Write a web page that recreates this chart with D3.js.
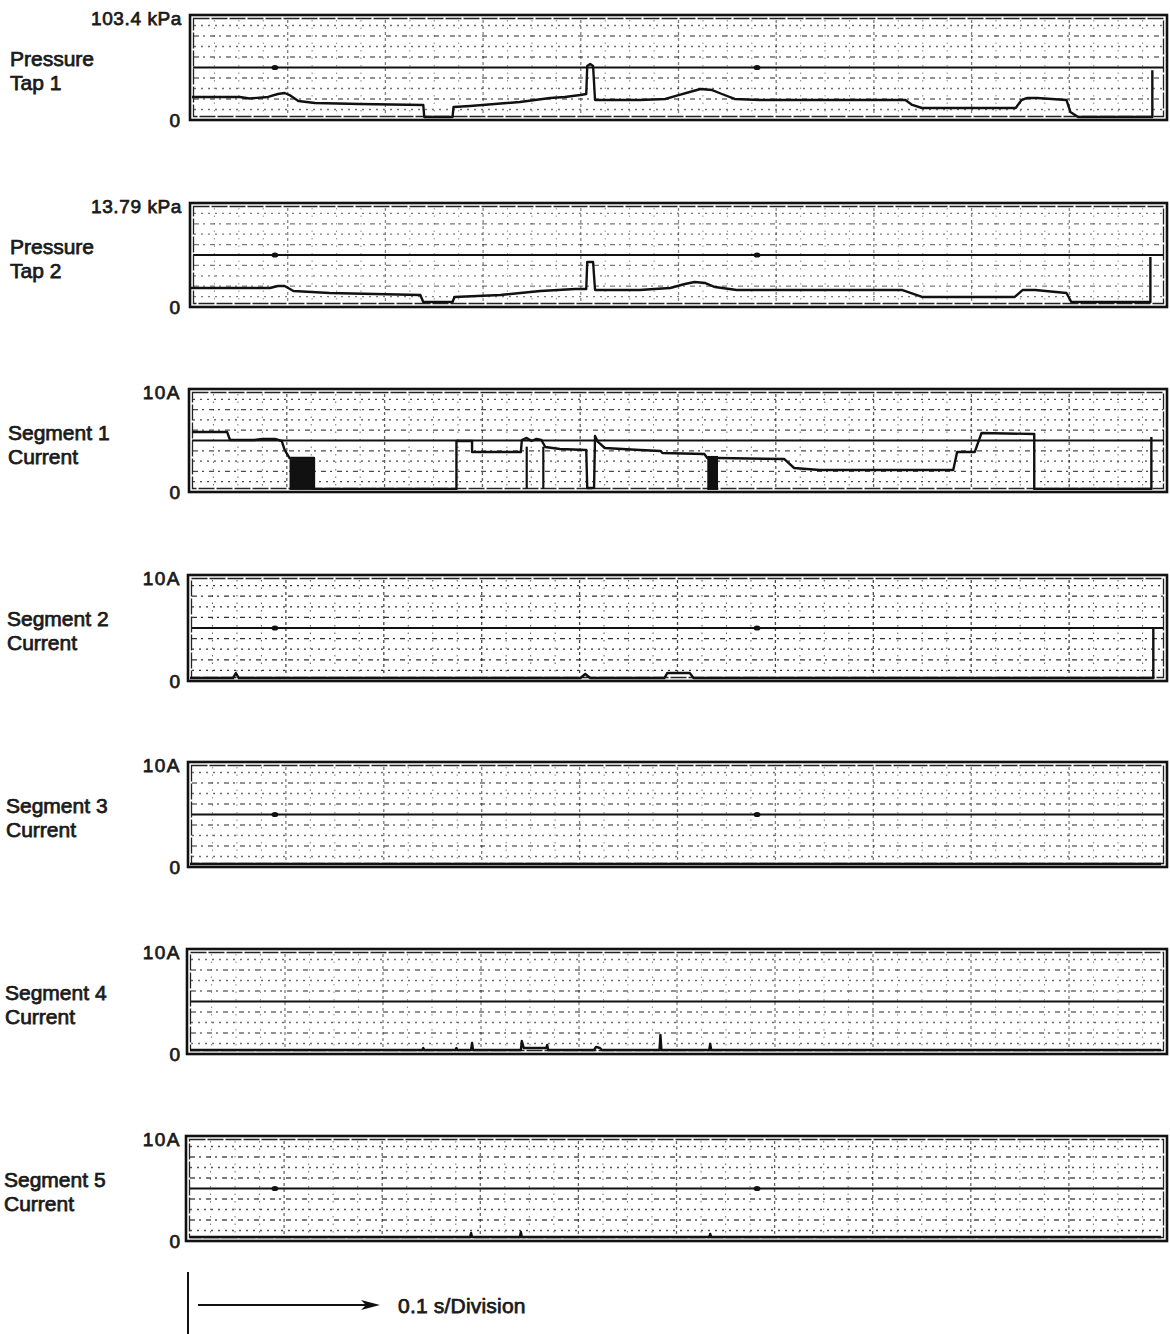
<!DOCTYPE html>
<html>
<head>
<meta charset="utf-8">
<script src="https://cdn.jsdelivr.net/npm/d3@7"></script>
<style>
  html, body { margin: 0; padding: 0; background: #fff; }
  svg { display: block; }
  text { font-family: "Liberation Sans", Arial, Helvetica, sans-serif; fill: #1a1a1a; }
</style>
</head>
<body>
<script>
// ---------------- DATA ----------------
const panelNames = [
  ["Pressure", "Tap 1"], ["Pressure", "Tap 2"],
  ["Segment 1", "Current"], ["Segment 2", "Current"], ["Segment 3", "Current"],
  ["Segment 4", "Current"], ["Segment 5", "Current"]
];
const fullScaleLabels = ["103.4 kPa", "13.79 kPa", "10A", "10A", "10A", "10A", "10A"];
const fullScaleValues = [103.4, 13.79, 10, 10, 10, 10, 10];
const zeroLabel = "0";
const timeLabel = "0.1 s/Division";

// traces: [time (s), value]
const tap1 = [
  [0.002,22.7],[0.051,22.7],[0.061,21.2],[0.080,22.7],[0.090,25.6],[0.097,26.6],[0.102,24.6],
  [0.111,18.7],[0.128,16.7],[0.174,15.8],[0.239,14.8],[0.240,3.0],[0.269,3.0],[0.270,12.8],
  [0.287,13.8],[0.338,17.7],[0.369,21.7],[0.384,22.7],[0.400,24.6],[0.406,25.6],[0.407,53.2],
  [0.410,55.2],[0.413,53.2],[0.415,19.7],[0.461,19.7],[0.487,20.7],[0.497,23.6],[0.512,27.6],
  [0.523,30.5],[0.535,29.5],[0.545,25.6],[0.558,20.7],[0.584,19.7],[0.733,19.7],[0.740,14.8],
  [0.750,11.8],[0.846,11.8],[0.852,19.7],[0.858,21.7],[0.868,21.7],[0.898,19.7],[0.902,7.9],
  [0.910,3.0],[0.986,3.0],[0.986,49.0]
];
const tap2 = [
  [0.001,2.52],[0.082,2.52],[0.090,2.78],[0.097,2.78],[0.106,2.12],[0.143,1.86],[0.236,1.59],
  [0.239,0.66],[0.269,0.66],[0.271,1.33],[0.318,1.59],[0.359,2.12],[0.395,2.39],[0.406,2.39],
  [0.407,5.97],[0.413,5.97],[0.415,2.25],[0.461,2.25],[0.476,2.39],[0.492,2.52],[0.507,3.05],
  [0.517,3.32],[0.528,3.18],[0.538,2.65],[0.560,2.25],[0.730,2.25],[0.750,1.33],[0.845,1.33],
  [0.853,2.25],[0.866,2.25],[0.898,1.86],[0.903,0.66],[0.984,0.66],[0.984,6.63]
];
const seg1 = [
  [0.002,5.83],[0.038,5.83],[0.041,5.05],[0.066,5.05],[0.074,5.15],[0.087,5.15],[0.094,4.95],
  [0.097,4.08],[0.102,3.30],[0.127,3.30],[0.127,0.30],[0.273,0.30],[0.273,4.95],[0.289,4.95],
  [0.289,3.88],[0.339,3.88],[0.340,5.05],[0.345,5.25],[0.350,4.95],[0.355,5.15],[0.360,5.05],
  [0.364,4.37],[0.379,4.18],[0.406,4.08],[0.407,0.39],[0.414,0.39],[0.415,5.44],[0.418,4.86],
  [0.425,4.27],[0.461,4.08],[0.482,3.98],[0.484,3.79],[0.527,3.69],[0.530,3.30],[0.541,3.30],
  [0.609,3.20],[0.619,2.33],[0.645,2.14],[0.782,2.14],[0.786,3.88],[0.804,3.88],[0.811,5.73],
  [0.865,5.63],[0.865,0.30],[0.985,0.30],[0.985,5.34]
];
const seg1Bursts = [[0.102, 0.127, 3.2], [0.530, 0.541, 3.5]];   // [start, end, top]
const seg1Drops = [[0.345, 4.4], [0.362, 4.4]];                   // [time, from value]
const seg2 = [
  [0.000,0.28],[0.044,0.28],[0.047,0.75],[0.050,0.28],[0.400,0.28],[0.405,0.66],[0.410,0.28],
  [0.486,0.28],[0.489,0.75],[0.512,0.75],[0.516,0.28],[0.987,0.28],[0.987,5.10]
];
const seg3 = [[0.000,0.29],[0.995,0.29]];
const seg4 = [
  [0.000,0.38],[0.238,0.38],[0.239,0.57],[0.240,0.38],[0.272,0.38],[0.273,0.57],[0.274,0.38],
  [0.288,0.38],[0.289,1.05],[0.290,0.38],[0.339,0.38],[0.340,1.24],[0.342,0.57],[0.365,0.57],
  [0.366,0.86],[0.367,0.38],[0.414,0.38],[0.416,0.67],[0.420,0.57],[0.422,0.38],[0.481,0.38],
  [0.482,1.81],[0.483,0.38],[0.532,0.38],[0.533,0.95],[0.534,0.38],[0.995,0.38]
];
const seg5 = [
  [0.000,0.38],[0.287,0.38],[0.288,0.76],[0.289,0.38],[0.338,0.38],[0.339,0.86],[0.340,0.38],
  [0.532,0.38],[0.533,0.67],[0.534,0.38],[0.995,0.38]
];
const traces = [tap1, tap2, seg1, seg2, seg3, seg4, seg5];
const timerMarks = [0.087, 0.581];          // timing dots on the centre line
const timerPanels = [0, 1, 3, 4, 6];
const timeDomain = [0, 1.0];
const gridCols = 40, gridRows = 10;

// ---------------- LAYOUT ----------------
const W = 1170, H = 1334;
const panelTop    = [15, 203, 389, 575, 762, 949, 1136];
const panelBottom = [120, 307, 492, 681, 867, 1054, 1241];
const panelLeft   = [190, 190, 189, 188, 188, 187, 186];
const panelRight  = 1167;
const gridStrength = [0.6, 0.55, 0.75, 0.85, 0.6, 0.6, 0.72];

const svg = d3.select("body").append("svg").attr("width", W).attr("height", H);
const x = d3.scaleLinear().domain(timeDomain).range([190, 1166]);
const textStroke = t => t.attr("stroke", "#1a1a1a").attr("stroke-width", 0.75);

panelNames.forEach((names, i) => {
  const top = panelTop[i], bot = panelBottom[i], left = panelLeft[i];
  const y = d3.scaleLinear().domain([0, fullScaleValues[i]]).range([bot, top]);
  const g = svg.append("g");
  const gs = gridStrength[i];

  // grid: horizontal
  const gy = d3.scaleLinear().domain([0, gridRows]).range([bot, top]);
  d3.range(1, gridRows).forEach(k => {
    if (k === gridRows / 2) return;
    g.append("line").attr("x1", left + 4).attr("x2", panelRight - 4)
      .attr("y1", gy(k)).attr("y2", gy(k))
      .attr("stroke", "#111").attr("stroke-width", 1.3)
      .attr("stroke-dasharray", k % 2 === 0 ? "5,4,2,5" : "2,5")
      .attr("opacity", gs);
  });
  // grid: vertical
  const gx = d3.scaleLinear().domain([0, gridCols]).range([left, panelRight]);
  d3.range(1, gridCols).forEach(k => {
    g.append("line").attr("x1", gx(k)).attr("x2", gx(k))
      .attr("y1", top + 5).attr("y2", bot - 5)
      .attr("stroke", "#111").attr("stroke-width", k % 4 === 0 ? 1.3 : 1.1)
      .attr("stroke-dasharray", k % 4 === 0 ? "3,3" : "1.5,6")
      .attr("opacity", gs * (k % 4 === 0 ? 0.9 : 0.75));
  });
  // centre line
  g.append("line").attr("x1", left + 3).attr("x2", panelRight - 3)
    .attr("y1", gy(gridRows / 2)).attr("y2", gy(gridRows / 2))
    .attr("stroke", "#111").attr("stroke-width", 1.9);

  // frame (double line)
  g.append("rect").attr("x", left).attr("y", top)
    .attr("width", panelRight - left).attr("height", bot - top)
    .attr("fill", "none").attr("stroke", "#111").attr("stroke-width", 2.6);
  g.append("rect").attr("x", left + 3.5).attr("y", top + 3.5)
    .attr("width", panelRight - left - 7).attr("height", bot - top - 7)
    .attr("fill", "none").attr("stroke", "#222").attr("stroke-width", 1.3)
    .attr("stroke-dasharray", "16,2");

  // timing dots
  if (timerPanels.includes(i)) {
    timerMarks.forEach(t => {
      g.append("ellipse").attr("cx", x(t)).attr("cy", gy(gridRows / 2))
        .attr("rx", 3.4).attr("ry", 2.6).attr("fill", "#111");
    });
  }

  // bursts / drops (segment 1)
  if (i === 2) {
    seg1Bursts.forEach(b => {
      g.append("rect").attr("x", x(b[0])).attr("y", y(b[2]))
        .attr("width", x(b[1]) - x(b[0])).attr("height", y(0.2) - y(b[2]))
        .attr("fill", "#111");
    });
    seg1Drops.forEach(d => {
      g.append("line").attr("x1", x(d[0])).attr("x2", x(d[0]))
        .attr("y1", y(d[1])).attr("y2", y(0.3))
        .attr("stroke", "#111").attr("stroke-width", 2.2);
    });
  }

  // trace
  const line = d3.line().x(d => x(d[0])).y(d => y(d[1]));
  g.append("path").datum(traces[i]).attr("d", line)
    .attr("fill", "none").attr("stroke", "#111").attr("stroke-width", 2.4)
    .attr("stroke-linejoin", "round");

  // labels
  const lab = svg.append("g");
  lab.append("text").attr("x", i < 2 ? 182 : 181).attr("y", top + 10)
    .attr("text-anchor", "end").attr("font-size", 19)
    .attr("letter-spacing", i < 2 ? 0.6 : 1.5)
    .call(textStroke)
    .text(fullScaleLabels[i]);
  lab.append("text").attr("x", 180).attr("y", bot + 7)
    .attr("text-anchor", "end").attr("font-size", 19)
    .call(textStroke)
    .text(zeroLabel);
  const nx = [10, 10, 8, 7, 6, 5, 4][i];
  names.forEach((n, j) => {
    lab.append("text").attr("x", nx).attr("y", top + 51 + j * 24)
      .attr("font-size", 21)
      .call(textStroke)
      .text(n);
  });
});

// time base indicator
const axisG = svg.append("g");
axisG.append("line").attr("x1", 188).attr("x2", 188).attr("y1", 1272).attr("y2", 1334)
  .attr("stroke", "#111").attr("stroke-width", 2);
axisG.append("line").attr("x1", 198).attr("x2", 368).attr("y1", 1305).attr("y2", 1305)
  .attr("stroke", "#111").attr("stroke-width", 1.8);
axisG.append("path").attr("d", "M361,1300 L380,1305 L361,1310 L366,1305 Z").attr("fill", "#111");
axisG.append("text").attr("x", 398).attr("y", 1313).attr("font-size", 21)
  .attr("letter-spacing", 0.2)
  .call(textStroke)
  .text(timeLabel);
</script>
</body>
</html>
